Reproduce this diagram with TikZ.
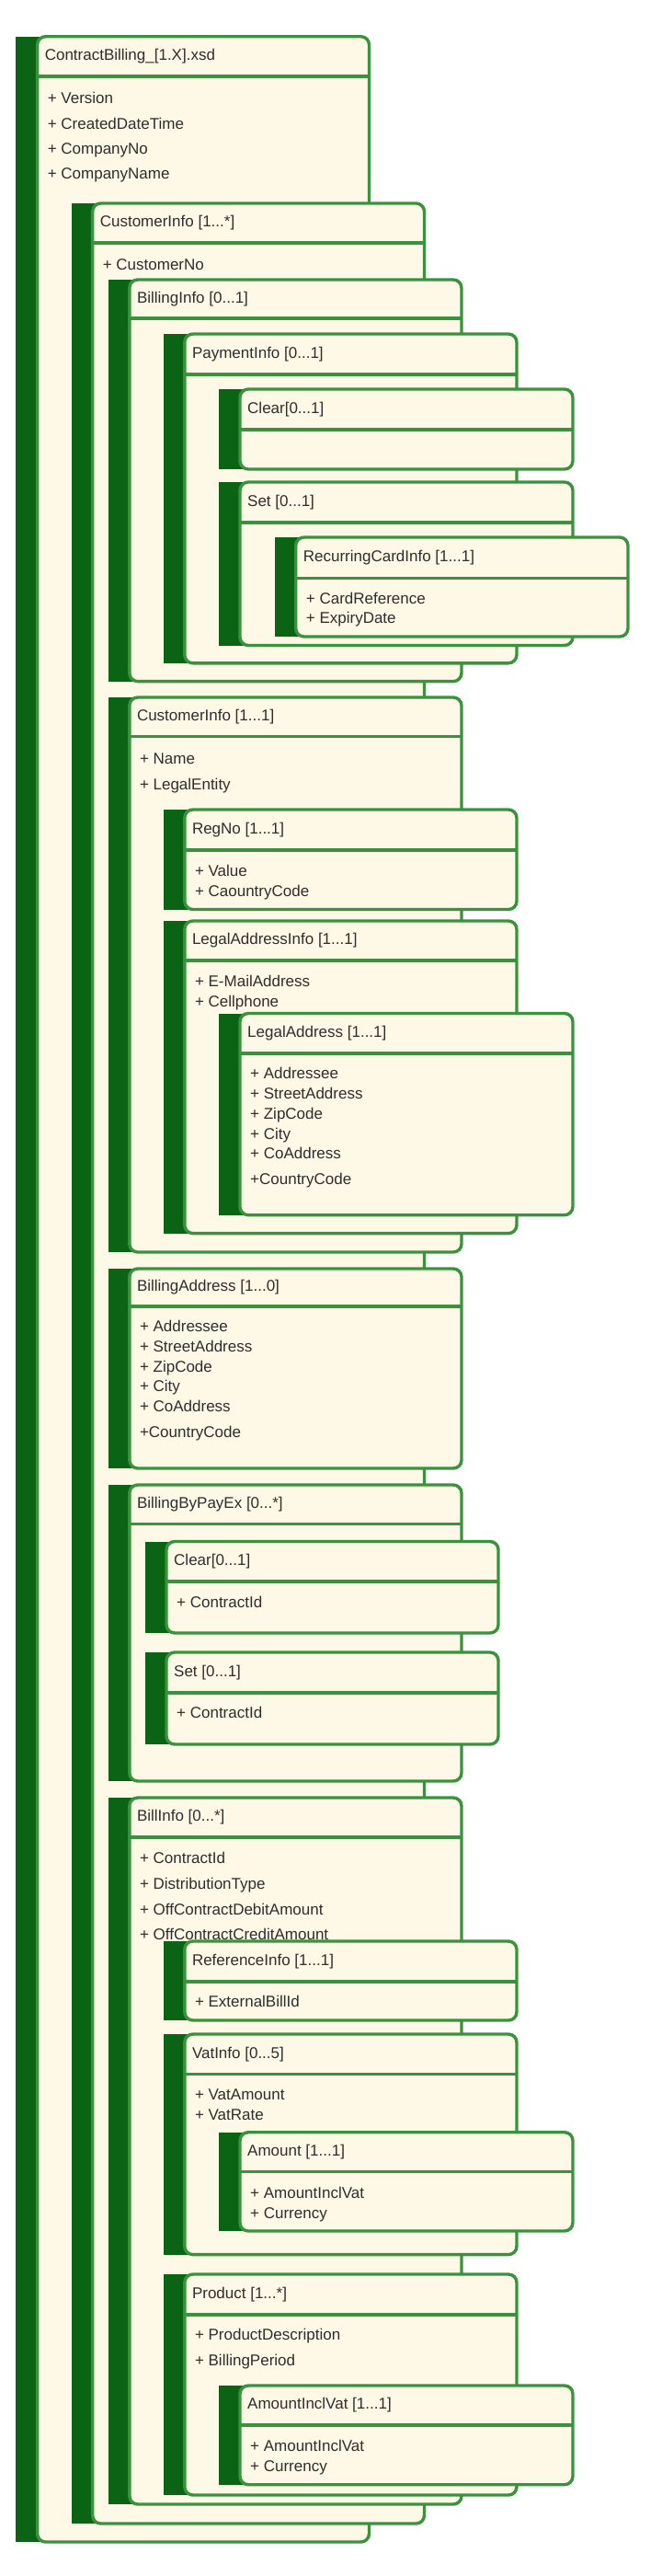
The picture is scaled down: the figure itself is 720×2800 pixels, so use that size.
\documentclass[tikz,border=0pt]{standalone}
\usepackage{fontspec}
\setmainfont{Liberation Sans}
\definecolor{bardk}{HTML}{0B6414}
\definecolor{brd}{HTML}{3A923F}
\definecolor{fillc}{HTML}{FEF8E6}
\definecolor{txt}{HTML}{2E2E2E}
\tikzset{
  boxframe/.style={draw=brd,line width=3.4pt,fill=fillc,rounded corners=9pt},
  barfill/.style={fill=bardk},
  hdrline/.style={draw=brd,line width=3.4pt},
  titletext/.style={anchor=west,inner sep=0pt,text=txt,font=\fontsize{17}{20}\selectfont},
  attrtext/.style={anchor=base west,inner sep=0pt,text=txt,font=\fontsize{17}{20}\selectfont}
}
% #1 name #2 barx #3 left #4 right #5 top #6 header #7 bottom #8 title
\newcommand\ubox[8]{%
  \fill[barfill] (#2,#5) rectangle (#3+6,#7);
  \draw[boxframe] (#3,#5) rectangle (#4,#7);
  \draw[hdrline] (#3,#6) -- (#4,#6);
  \node[titletext] (#1) at (#3+8,{(#5+#6)/2}) {#8};
}
\newcommand\uattr[3]{\node[attrtext] at (#1+11,#2+6) {#3};}
\begin{document}
\begin{tikzpicture}[x=1pt,y=-1pt]
\useasboundingbox (0,0) rectangle (720,2800);
\ubox{root}{17}{40.6}{401.5}{39.7}{83}{2763}{ContractBilling\_[1.X].xsd}
\uattr{40.6}{106}{+ Version}
\uattr{40.6}{134}{+ CreatedDateTime}
\uattr{40.6}{161}{+ CompanyNo}
\uattr{40.6}{188}{+ CompanyName}
\ubox{ci1}{77.5}{100.6}{461.5}{221}{264}{2743}{CustomerInfo [1...*]}
\uattr{100.6}{287}{+ CustomerNo}
\ubox{bi}{117.7}{140.8}{502}{304}{346}{740.6}{BillingInfo [0...1]}
\ubox{pi}{177.7}{200.8}{562}{363}{407}{720.8}{PaymentInfo [0...1]}
\ubox{clr}{238}{261}{623}{423}{467}{510}{Clear[0...1]}
\ubox{set}{238}{261}{623}{524}{568}{701.5}{Set [0...1]}
\ubox{rci}{298.6}{321.7}{683}{584}{628.5}{692}{RecurringCardInfo [1...1]}
\uattr{321.7}{650}{+ CardReference}
\uattr{321.7}{671.5}{+ ExpiryDate}
\ubox{ci2}{117.7}{140.8}{502}{758}{800.6}{1361}{CustomerInfo [1...1]}
\uattr{140.8}{824}{+ Name}
\uattr{140.8}{852}{+ LegalEntity}
\ubox{reg}{177.7}{200.8}{562}{880}{924}{988.5}{RegNo [1...1]}
\uattr{200.8}{946}{+ Value}
\uattr{200.8}{968}{+ CaountryCode}
\ubox{lai}{177.7}{200.8}{562}{1001}{1044}{1340.6}{LegalAddressInfo [1...1]}
\uattr{200.8}{1066}{+ E-MailAddress}
\uattr{200.8}{1088}{+ Cellphone}
\ubox{la}{238}{261}{623}{1101.5}{1145}{1320.7}{LegalAddress [1...1]}
\uattr{261}{1166.6}{+ Addressee}
\uattr{261}{1188}{+ StreetAddress}
\uattr{261}{1210}{+ ZipCode}
\uattr{261}{1232}{+ City}
\uattr{261}{1253}{+ CoAddress}
\uattr{261}{1281}{+CountryCode}
\ubox{ba}{117.7}{140.8}{502}{1379}{1420}{1596}{BillingAddress [1...0]}
\uattr{140.8}{1441.5}{+ Addressee}
\uattr{140.8}{1463}{+ StreetAddress}
\uattr{140.8}{1485}{+ ZipCode}
\uattr{140.8}{1506.6}{+ City}
\uattr{140.8}{1528}{+ CoAddress}
\uattr{140.8}{1556}{+CountryCode}
\ubox{bbp}{117.7}{140.8}{502}{1614}{1656.6}{1936}{BillingByPayEx [0...*]}
\ubox{clr2}{157.8}{181}{542}{1675.5}{1719}{1775}{Clear[0...1]}
\uattr{181}{1741}{+ ContractId}
\ubox{set2}{157.8}{181}{542}{1796}{1840}{1896}{Set [0...1]}
\uattr{181}{1861.5}{+ ContractId}
\ubox{bill}{117.7}{140.8}{502}{1954}{1997}{2722}{BillInfo [0...*]}
\uattr{140.8}{2019}{+ ContractId}
\uattr{140.8}{2047}{+ DistributionType}
\uattr{140.8}{2075}{+ OffContractDebitAmount}
\uattr{140.8}{2102}{+ OffContractCreditAmount}
\ubox{ref}{177.7}{200.8}{562}{2110}{2154}{2196}{ReferenceInfo [1...1]}
\uattr{200.8}{2175.5}{+ ExternalBillId}
\ubox{vat}{177.7}{200.8}{562}{2211}{2254.5}{2450.6}{VatInfo [0...5]}
\uattr{200.8}{2276}{+ VatAmount}
\uattr{200.8}{2298}{+ VatRate}
\ubox{amt}{238}{261}{623}{2317.7}{2360.6}{2425}{Amount [1...1]}
\uattr{261}{2383.7}{+ AmountInclVat}
\uattr{261}{2405}{+ Currency}
\ubox{prod}{177.7}{200.8}{562}{2472}{2516}{2712}{Product [1...*]}
\uattr{200.8}{2537}{+ ProductDescription}
\uattr{200.8}{2565}{+ BillingPeriod}
\ubox{aiv}{238}{261}{623}{2593}{2636}{2700.7}{AmountInclVat [1...1]}
\uattr{261}{2658}{+ AmountInclVat}
\uattr{261}{2680}{+ Currency}
\end{tikzpicture}
\end{document}
